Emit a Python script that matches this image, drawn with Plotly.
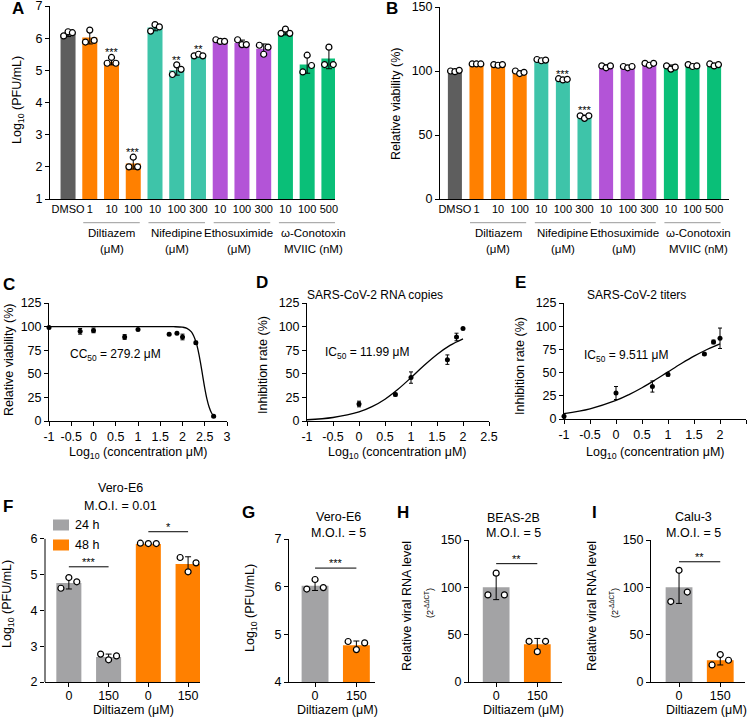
import plotly.graph_objects as go

W, H = 750, 722
FONT = "Liberation Sans, Arial, sans-serif"

# colours per treatment
drug_colors = {"DMSO": "#5E5E5E", "Diltiazem": "#FF8000", "Nifedipine": "#3EC4A9",
               "Ethosuximide": "#B354D7", "Conotoxin": "#0ABF78"}
GRAY = "#A3A3A5"
ORANGE = "#FF8000"

# ---- A / B : channel blocker screen
ab_labels = ["DMSO", "1", "10", "100", "10", "100", "300", "10", "100", "300", "10", "100", "500"]
ab_drug = ["DMSO"] + ["Diltiazem"] * 3 + ["Nifedipine"] * 3 + ["Ethosuximide"] * 3 + ["Conotoxin"] * 3
group_text = {"Diltiazem": ("Diltiazem", "(μM)"), "Nifedipine": ("Nifedipine", "(μM)"),
              "Ethosuximide": ("Ethosuximide", "(μM)"), "Conotoxin": ("ω-Conotoxin", "MVIIC (nM)")}
group_nudge = {"Ethosuximide": -0.15, "Conotoxin": 0.3}

a_mean = [6.13, 6.02, 5.27, 2.10, 6.33, 5.00, 5.47, 5.93, 5.85, 5.67, 6.18, 5.18, 5.37]
a_err = [0.08, 0.20, 0.10, 0.17, 0.10, 0.15, 0.03, 0.03, 0.09, 0.15, 0.08, 0.27, 0.32]
a_pts = [[6.07, 6.20, 6.17], [5.88, 6.25, 5.93], [5.22, 5.40, 5.22], [2.00, 2.30, 2.00],
         [6.22, 6.42, 6.35], [4.87, 5.17, 5.03], [5.45, 5.50, 5.45], [5.95, 5.90, 5.90],
         [5.95, 5.80, 5.80], [5.78, 5.50, 5.72], [6.15, 6.28, 6.15], [4.95, 5.47, 5.15],
         [5.18, 5.72, 5.18]]
a_sig = ["", "", "***", "***", "", "**", "**", "", "", "", "", "", ""]

b_mean = [100, 105.5, 105, 99, 108.5, 93.5, 64.5, 104, 103.5, 105.5, 103.5, 104, 105]
b_err = [0.5, 0.3, 0.3, 1.0, 0.5, 0.5, 1.0, 0.8, 0.6, 0.8, 1.2, 0.8, 0.8]
b_pts = [[100, 99.5, 100.5], [105.5, 105.5, 105.5], [105, 104.5, 105], [100, 98, 99],
         [109, 108, 108.5], [94, 93, 93.5], [65, 63, 65], [104, 102.5, 104],
         [103.5, 102.5, 103.5], [106, 104.5, 106], [104, 101.5, 103], [105, 103.5, 104],
         [105.5, 104, 105]]
b_sig = ["", "", "", "", "", "***", "***", "", "", "", "", "", ""]

# ---- C : cytotoxicity
c_x = [-1, -0.3, 0, 0.7, 1, 1.7, 1.875, 2, 2.3, 2.7]
c_y = [99, 95, 96, 89, 97, 92, 93, 89, 83, 5]
c_e = [0.5, 3, 2.5, 2.5, 1, 1, 1, 3, 1.5, 1]
c_fit_x = [-1, 1.5, 1.8, 2.0, 2.1, 2.2, 2.3, 2.35, 2.4, 2.45, 2.5, 2.55, 2.6, 2.65, 2.7]
c_fit_y = [100, 100, 99.9, 99.4, 98.2, 94.4, 84.3, 75.1, 62.9, 48.9, 34.9, 23.2, 14.5, 8.7, 5.1]

# ---- D : RNA copies
d_x = [0, 0.7, 1, 1.7, 1.875, 2]
d_y = [18, 28, 46, 65, 89, 98]
d_e = [3, 1.5, 6, 5, 4, 1]
d_fit_x = [-1, -0.5, 0, 0.25, 0.5, 0.75, 1.0, 1.25, 1.5, 1.75, 2.0]
d_fit_y = [1.3, 3.7, 9.6, 15.2, 23.1, 33.6, 45.9, 58.8, 70.5, 80.1, 87.0]

# ---- E : titers
e_x = [-1, 0, 0.7, 1, 1.7, 1.875, 2]
e_y = [3, 28, 35, 48, 70, 83, 87]
e_e = [3, 7, 6, 1.5, 1, 2, 11]
e_fit_x = [-1, -0.5, 0, 0.25, 0.5, 0.75, 1.0, 1.25, 1.5, 1.75, 2.0]
e_fit_y = [5.7, 11.0, 20.0, 26.3, 33.7, 42.0, 50.8, 59.5, 67.7, 74.9, 81.0]

conc_ticks = [-1, -0.5, 0, 0.5, 1, 1.5, 2, 2.5, 3]
conc_text = ["-1", "-0.5", "0", "0.5", "1", "1.5", "2", "2.5", "3"]

# ---- F-I : diltiazem follow-up
f_dose = ["0", "150", "0", "150"]
f_time = ["24 h", "24 h", "48 h", "48 h"]
f_mean = [4.77, 2.70, 5.86, 5.30]
f_err = [0.17, 0.08, 0.01, 0.20]
f_pts = [[4.62, 4.92, 4.80], [2.78, 2.62, 2.73], [5.88, 5.87, 5.87], [5.48, 5.08, 5.33]]

g_dose = ["0", "150"]
g_mean = [6.02, 4.77]
g_err = [0.10, 0.09]
g_pts = [[5.95, 6.15, 5.98], [4.85, 4.68, 4.82]]

h_mean = [100, 40]
h_err = [13, 6]
h_pts = [[92, 115, 92], [43, 32, 43]]

i_mean = [100, 23]
i_err = [17, 5]
i_pts = [[85, 118, 95], [18, 29, 23]]

# significance bars: (panel, x0, x1, y, stars)
sig_bars = [(6, 0, 1, 5.22, "***"), (6, 2, 3, 6.2, "*"), (7, 0, 1, 6.39, "***"),
            (8, 0, 1, 125, "**"), (9, 0, 1, 127, "**")]

fig = go.Figure()
shapes, anns = [], []
axes = {}
JIT = [-0.2, 0, 0.2]

AX = dict(showline=True, linecolor="black", linewidth=1, ticks="outside", ticklen=4,
          tickwidth=1, tickcolor="black", showgrid=False, zeroline=False, tickangle=0,
          automargin=False, tickfont=dict(size=12.5, color="black", family=FONT), fixedrange=True)


def refs(n):
    return ("x", "y") if n == 1 else (f"x{n}", f"y{n}")


def add_axes(n, xdom, ydom, xr, yr, xtv, xtt, ytv, xticks="outside", yline=True, fs=12.5, xstand=0):
    xr_, yr_ = refs(n)
    axes["xaxis" if n == 1 else f"xaxis{n}"] = dict(
        AX, domain=[xdom[0] / W, xdom[1] / W], range=xr, anchor=yr_,
        tickvals=xtv, ticktext=xtt, ticks=xticks, ticklabelstandoff=xstand,
        tickfont=dict(size=fs, color="black", family=FONT))
    axes["yaxis" if n == 1 else f"yaxis{n}"] = dict(
        AX, domain=[1 - ydom[1] / H, 1 - ydom[0] / H], range=yr, anchor=xr_,
        tickvals=ytv, ticktext=[str(v) for v in ytv], showline=yline)


def txt(text, x, y, size=12.5, xref="paper", yref="paper", xanchor="center", yanchor="middle", **kw):
    if xref == "paper":
        x = x / W
    if yref == "paper":
        y = 1 - y / H
    anns.append(dict(text=text, x=x, y=y, xref=xref, yref=yref, showarrow=False,
                     xanchor=xanchor, yanchor=yanchor,
                     font=dict(size=size, color="black", family=FONT), **kw))


def bars(n, xs, mean, err, pts, color, width):
    xr_, yr_ = refs(n)
    fig.add_trace(go.Bar(x=xs, y=mean, width=width, marker=dict(color=color, line_width=0),
                         error_y=dict(type="data", array=err, color="black", thickness=1, width=3),
                         xaxis=xr_, yaxis=yr_, showlegend=False))
    fig.add_trace(go.Scatter(x=[i + j for i in xs for j in JIT], y=[v for p in pts for v in p],
                             mode="markers", cliponaxis=False,
                             marker=dict(size=6, color="white", line=dict(color="black", width=1.2)),
                             xaxis=xr_, yaxis=yr_, showlegend=False, hoverinfo="skip"))


def curve(n, x, y, e, fx, fy):
    xr_, yr_ = refs(n)
    fig.add_trace(go.Scatter(x=fx, y=fy, mode="lines", line=dict(color="black", width=1.3, shape="spline"),
                             xaxis=xr_, yaxis=yr_, showlegend=False))
    fig.add_trace(go.Scatter(x=x, y=y, mode="markers", cliponaxis=False,
                             marker=dict(size=5, color="black"),
                             error_y=dict(type="data", array=e, color="black", thickness=1, width=2),
                             xaxis=xr_, yaxis=yr_, showlegend=False))


# ---------- A and B
idx = list(range(len(ab_labels)))
ab_cols = [drug_colors[d] for d in ab_drug]
for n, mean, err, pts, sig, xdom, ydom, yr, ytv, w in [
        (1, a_mean, a_err, a_pts, a_sig, (50, 335), (6, 199), [1, 7], [1, 2, 3, 4, 5, 6, 7], 0.69),
        (2, b_mean, b_err, b_pts, b_sig, (440, 729), (7, 199), [0, 150], [0, 50, 100, 150], 0.65)]:
    x0 = -0.83 if n == 1 else -0.69
    x1 = 12.28 if n == 1 else 12.69
    add_axes(n, xdom, ydom, [x0, x1], yr, idx, ab_labels, ytv, xticks="", fs=11)
    bars(n, idx, mean, err, pts, ab_cols, w)
    xr_, yr_ = refs(n)
    for i, s in enumerate(sig):
        if s:
            top = max(max(pts[i]), mean[i] + err[i])
            txt(s, i, top, size=11, xref=xr_, yref=yr_, yanchor="bottom", yshift=-3)
    for g, (l1, l2) in group_text.items():
        members = [i for i, d in enumerate(ab_drug) if d == g]
        lo, hi = members[0], members[-1]
        shapes.append(dict(type="line", xref=xr_, yref="paper", x0=lo - 0.3, x1=hi + 0.3,
                           y0=1 - 222.7 / H, y1=1 - 222.7 / H, line=dict(color="#9A9A9A", width=1)))
        cx = (lo + hi) / 2 + group_nudge.get(g, 0)
        txt(l1, cx, 233, size=11.5, xref=xr_)
        txt(l2, cx, 249, size=11.5, xref=xr_)

txt("Log<sub>10</sub> (PFU/mL)", 18, 100, textangle=-90)
txt("Relative viability (%)", 396, 104, textangle=-90)

# ---------- C, D, E
add_axes(3, (49, 227), (303, 421), [-1, 3], [0, 125], conc_ticks, conc_text, [0, 25, 50, 75, 100, 125])
add_axes(4, (307, 489), (303, 421), [-1, 2.5], [0, 125], conc_ticks[:8], conc_text[:8], [0, 25, 50, 75, 100, 125])
add_axes(5, (564, 746), (303, 419), [-1, 2.5], [0, 125], conc_ticks[:8], conc_text[:8], [0, 25, 50, 75, 100, 125])
curve(3, c_x, c_y, c_e, c_fit_x, c_fit_y)
curve(4, d_x, d_y, d_e, d_fit_x, d_fit_y)
curve(5, e_x, e_y, e_e, e_fit_x, e_fit_y)

for cx in [138, 398, 655]:
    txt("Log<sub>10</sub> (concentration μM)", cx, 453)
txt("Relative viability (%)", 9, 360, textangle=-90)
txt("Inhibition rate (%)", 263, 365, textangle=-90)
txt("Inhibition rate (%)", 520, 366, textangle=-90)
txt("SARS-CoV-2 RNA copies", 375, 295, size=12)
txt("SARS-CoV-2 titers", 636, 295, size=12)
txt("CC<sub>50</sub> = 279.2 μM", 68, 355, size=12, xanchor="left")
txt("IC<sub>50</sub> = 11.99 μM", 323, 353, size=12, xanchor="left")
txt("IC<sub>50</sub> = 9.511 μM", 582, 356, size=12, xanchor="left")

# ---------- F
f_x = list(range(len(f_dose)))
add_axes(6, (45, 200), (521, 682), [-0.6, 3.3], [2, 6.5], f_x, f_dose, [2, 3, 4, 5, 6],
         yline=False, xstand=-2)
shapes.append(dict(type="line", xref="paper", yref="y6", x0=45 / W, x1=45 / W, y0=2, y1=6,
                   line=dict(color="black", width=1)))
for k, (t, col) in enumerate([("24 h", GRAY), ("48 h", ORANGE)]):
    sel = [i for i in f_x if f_time[i] == t]
    bars(6, sel, [f_mean[i] for i in sel], [f_err[i] for i in sel], [f_pts[i] for i in sel], col, 0.63)
    # legend swatch
    yc = 525 + 20 * k
    shapes.append(dict(type="rect", xref="paper", yref="paper", x0=53 / W, x1=69 / W,
                       y0=1 - (yc + 5.5) / H, y1=1 - (yc - 5.5) / H, fillcolor=col, line_width=0))
    txt(t, 73, yc, xanchor="left")

# ---------- G, H, I
gx = list(range(len(g_dose)))
add_axes(7, (289, 375), (539, 682), [-0.63, 1.45], [4, 7], gx, g_dose, [4, 5, 6, 7], xstand=-2)
add_axes(8, (469, 562), (540, 682), [-0.66, 1.6], [0, 150], gx, g_dose, [0, 50, 100, 150], xstand=-2)
add_axes(9, (651, 745), (540, 682), [-0.68, 1.6], [0, 150], gx, g_dose, [0, 50, 100, 150], xstand=-2)
bars(7, gx, g_mean, g_err, g_pts, [GRAY, ORANGE], 0.65)
bars(8, gx, h_mean, h_err, h_pts, [GRAY, ORANGE], 0.65)
bars(9, gx, i_mean, i_err, i_pts, [GRAY, ORANGE], 0.65)

for n, a, b, y, s in sig_bars:
    xr_, yr_ = refs(n)
    shapes.append(dict(type="line", xref=xr_, yref=yr_, x0=a, x1=b, y0=y, y1=y,
                       line=dict(color="black", width=1)))
    txt(s, (a + b) / 2, y, size=11, xref=xr_, yref=yr_, yanchor="bottom", yshift=-3)

# titles of bottom row
for cx, l1, l2, y1, y2 in [(120, "Vero-E6", "M.O.I. = 0.01", 488, 506),
                           (338, "Vero-E6", "M.O.I. = 5", 517, 533),
                           (513, "BEAS-2B", "M.O.I. = 5", 518, 533),
                           (693, "Calu-3", "M.O.I. = 5", 517, 533)]:
    txt(l1, cx, y1)
    txt(l2, cx, y2)
for cx in [133, 337, 523, 706]:
    txt("Diltiazem (μM)", cx, 710)
txt("Log<sub>10</sub> (PFU/mL)", 8, 604, textangle=-90)
txt("Log<sub>10</sub> (PFU/mL)", 251, 608, textangle=-90)
for x1, x2 in [(407, 429), (592, 614)]:
    txt("Relative viral RNA level", x1, 606, textangle=-90)
    txt("(2<sup>-ΔΔCT</sup>)", x2, 603, size=9, textangle=-90)

# panel letters
for L, x, y in [("A", 18, 8), ("B", 392, 8), ("C", 9, 284), ("D", 262, 283), ("E", 520, 283),
                ("F", 8, 507), ("G", 248, 512), ("H", 403, 512), ("I", 594, 512)]:
    txt(f"<b>{L}</b>", x, y, size=17)

fig.update_layout(
    width=W, height=H, margin=dict(l=0, r=0, t=0, b=0, autoexpand=False),
    paper_bgcolor="white", plot_bgcolor="white",
    font=dict(family=FONT, size=12.5, color="black"),
    shapes=shapes, annotations=anns, showlegend=False,
    **axes,
)

fig.write_html("out.html", config={"displayModeBar": False},
               post_script="document.body.style.margin='0';")
